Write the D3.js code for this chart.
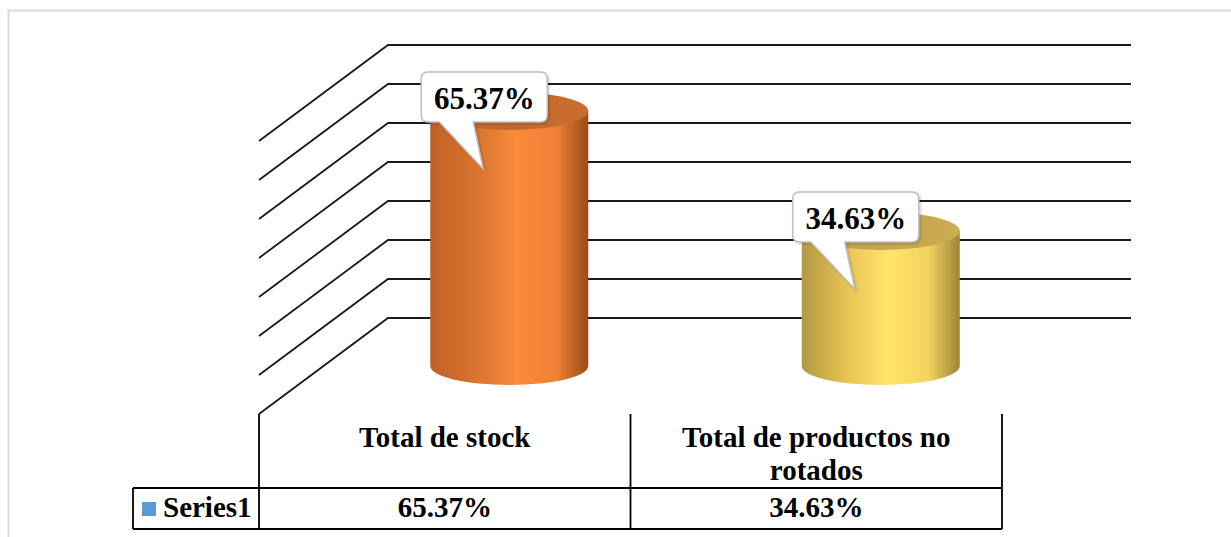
<!DOCTYPE html>
<html>
<head>
<meta charset="utf-8">
<script src="https://cdn.jsdelivr.net/npm/d3@7"></script>
<style>
  html, body { margin: 0; padding: 0; background: #fff; }
  svg { display: block; }
  text { font-family: "Liberation Serif", "Times New Roman", serif; font-weight: bold; fill: #000; }
</style>
</head>
<body>
<div id="chart"></div>
<script>
// chart data
var categories = ["Total de stock", "Total de productos no rotados"];
var categoryLines = [["Total de stock"], ["Total de productos no", "rotados"]];
var values = [65.37, 34.63];
var labels = ["65.37%", "34.63%"];
var seriesName = "Series1";
var gridTicks = [0, 10, 20, 30, 40, 50, 60, 70];

var w = 1231, h = 537;

// 3d box: back wall and depth offset
var backLeft = 388, backRight = 1131;
var depthX = -129, depthY = 96;
var cylDepth = 0.5;

var svg = d3.select("#chart").append("svg")
    .attr("width", w)
    .attr("height", h);

// outer frame of chart area
svg.append("rect")
    .attr("x", 8.5).attr("y", 10.5)
    .attr("width", 1300).attr("height", 600)
    .attr("fill", "none")
    .attr("stroke", "#d9d9d9")
    .attr("stroke-width", 2);

var y = d3.scaleLinear().domain([0, 70]).range([318, 45]);
var x = d3.scaleBand().domain(categories).range([backLeft, backRight]);

// gradients
var defs = svg.append("defs");
var palettes = [
    { body: ["#bf6127", "#da7430", "#fa8b3a", "#ef7f34", "#974b1b"], top: ["#bd632a", "#c96d30"] },
    { body: ["#b39842", "#ebc655", "#ffe46c", "#f4d35e", "#9c8538"], top: ["#bda048", "#c9ac52"] }
];
var stopsAt = [0, 0.3, 0.55, 0.8, 1];
palettes.forEach(function (p, i) {
    var g = defs.append("linearGradient").attr("id", "body" + i)
        .attr("x1", 0).attr("x2", 1).attr("y1", 0).attr("y2", 0);
    p.body.forEach(function (c, k) {
        g.append("stop").attr("offset", stopsAt[k]).attr("stop-color", c);
    });
    var t = defs.append("linearGradient").attr("id", "top" + i)
        .attr("x1", 0).attr("x2", 1).attr("y1", 0).attr("y2", 0);
    t.append("stop").attr("offset", 0).attr("stop-color", p.top[0]);
    t.append("stop").attr("offset", 1).attr("stop-color", p.top[1]);
});
var sh = defs.append("filter").attr("id", "shadow")
    .attr("x", "-20%").attr("y", "-20%").attr("width", "140%").attr("height", "140%");
sh.append("feDropShadow").attr("dx", 1).attr("dy", 1).attr("stdDeviation", 1.2)
    .attr("flood-color", "#000").attr("flood-opacity", 0.25);

// gridlines: back wall + side wall
var grid = svg.append("g").attr("class", "grid")
    .attr("stroke", "#1a1a1a").attr("stroke-width", 1.8).attr("fill", "none");
gridTicks.forEach(function (t) {
    var yy = y(t);
    grid.append("path")
        .attr("d", "M" + (backLeft + depthX) + "," + (yy + depthY) +
                   "L" + backLeft + "," + yy + "H" + backRight);
});

// cylinders
var rx = 79, ry = 19;
var cyl = svg.append("g").attr("class", "cylinders");
values.forEach(function (v, i) {
    var cx = x(categories[i]) + x.bandwidth() / 2 + depthX * cylDepth;
    var yb = y(0) + depthY * cylDepth;
    var yt = y(v) + depthY * cylDepth;
    cyl.append("path")
        .attr("d", "M" + (cx - rx) + "," + yt + "V" + yb +
                   "A" + rx + "," + ry + " 0 0 0 " + (cx + rx) + "," + yb +
                   "V" + yt + "Z")
        .attr("fill", "url(#body" + i + ")");
    cyl.append("ellipse")
        .attr("cx", cx).attr("cy", yt).attr("rx", rx).attr("ry", ry)
        .attr("fill", "url(#top" + i + ")");
});

// data label callouts
var callouts = svg.append("g").attr("class", "callouts");
values.forEach(function (v, i) {
    var cx = x(categories[i]) + x.bandwidth() / 2 + depthX * cylDepth;
    var yt = y(v) + depthY * cylDepth;
    var x0 = cx - 88, y0 = yt - 39, x1 = x0 + 126, y1 = y0 + 50, r = 7;
    var bx0 = x0 + 18, bx1 = x0 + 52, tx = x0 + 62, ty = y1 + 47;
    var d = "M" + (x0 + r) + "," + y0 + "H" + (x1 - r) +
        "Q" + x1 + "," + y0 + " " + x1 + "," + (y0 + r) +
        "V" + (y1 - r) + "Q" + x1 + "," + y1 + " " + (x1 - r) + "," + y1 +
        "H" + bx1 + "L" + tx + "," + ty + "L" + bx0 + "," + y1 +
        "H" + (x0 + r) + "Q" + x0 + "," + y1 + " " + x0 + "," + (y1 - r) +
        "V" + (y0 + r) + "Q" + x0 + "," + y0 + " " + (x0 + r) + "," + y0 + "Z";
    callouts.append("path")
        .attr("d", d)
        .attr("fill", "#fff")
        .attr("stroke", "#bfbfbf")
        .attr("stroke-width", 1.5)
        .attr("filter", "url(#shadow)");
    callouts.append("text")
        .attr("x", (x0 + x1) / 2).attr("y", y0 + 37)
        .attr("text-anchor", "middle")
        .style("font-size", "31px")
        .text(labels[i]);
});

// data table
var front = function (c) { return x(c) + depthX; };
var tTop = y(0) + depthY, rowY = 488, tBottom = 529, legendLeft = 133;
var table = svg.append("g").attr("class", "table")
    .attr("stroke", "#000").attr("stroke-width", 1.8).attr("fill", "none");
var colEdges = categories.map(front).concat([front(categories[categories.length - 1]) + x.bandwidth()]);
colEdges.forEach(function (cx) {
    table.append("line").attr("x1", cx).attr("x2", cx).attr("y1", tTop).attr("y2", tBottom);
});
table.append("line").attr("x1", legendLeft).attr("x2", colEdges[colEdges.length - 1]).attr("y1", rowY).attr("y2", rowY);
table.append("line").attr("x1", legendLeft).attr("x2", colEdges[colEdges.length - 1]).attr("y1", tBottom).attr("y2", tBottom);
table.append("line").attr("x1", legendLeft).attr("x2", legendLeft).attr("y1", rowY).attr("y2", tBottom);

var tableText = svg.append("g").style("font-size", "29px");
categories.forEach(function (c, i) {
    var mid = front(c) + x.bandwidth() / 2;
    categoryLines[i].forEach(function (ln, k) {
        tableText.append("text")
            .attr("x", mid).attr("y", 447 + k * 33)
            .attr("text-anchor", "middle")
            .text(ln);
    });
    tableText.append("text")
        .attr("x", mid).attr("y", 517)
        .attr("text-anchor", "middle")
        .text(labels[i]);
});

// legend key in table
svg.append("rect")
    .attr("x", 142).attr("y", 502).attr("width", 14).attr("height", 14)
    .attr("fill", "#5b9bd5");
tableText.append("text")
    .attr("x", 163).attr("y", 517)
    .text(seriesName);
</script>
</body>
</html>
